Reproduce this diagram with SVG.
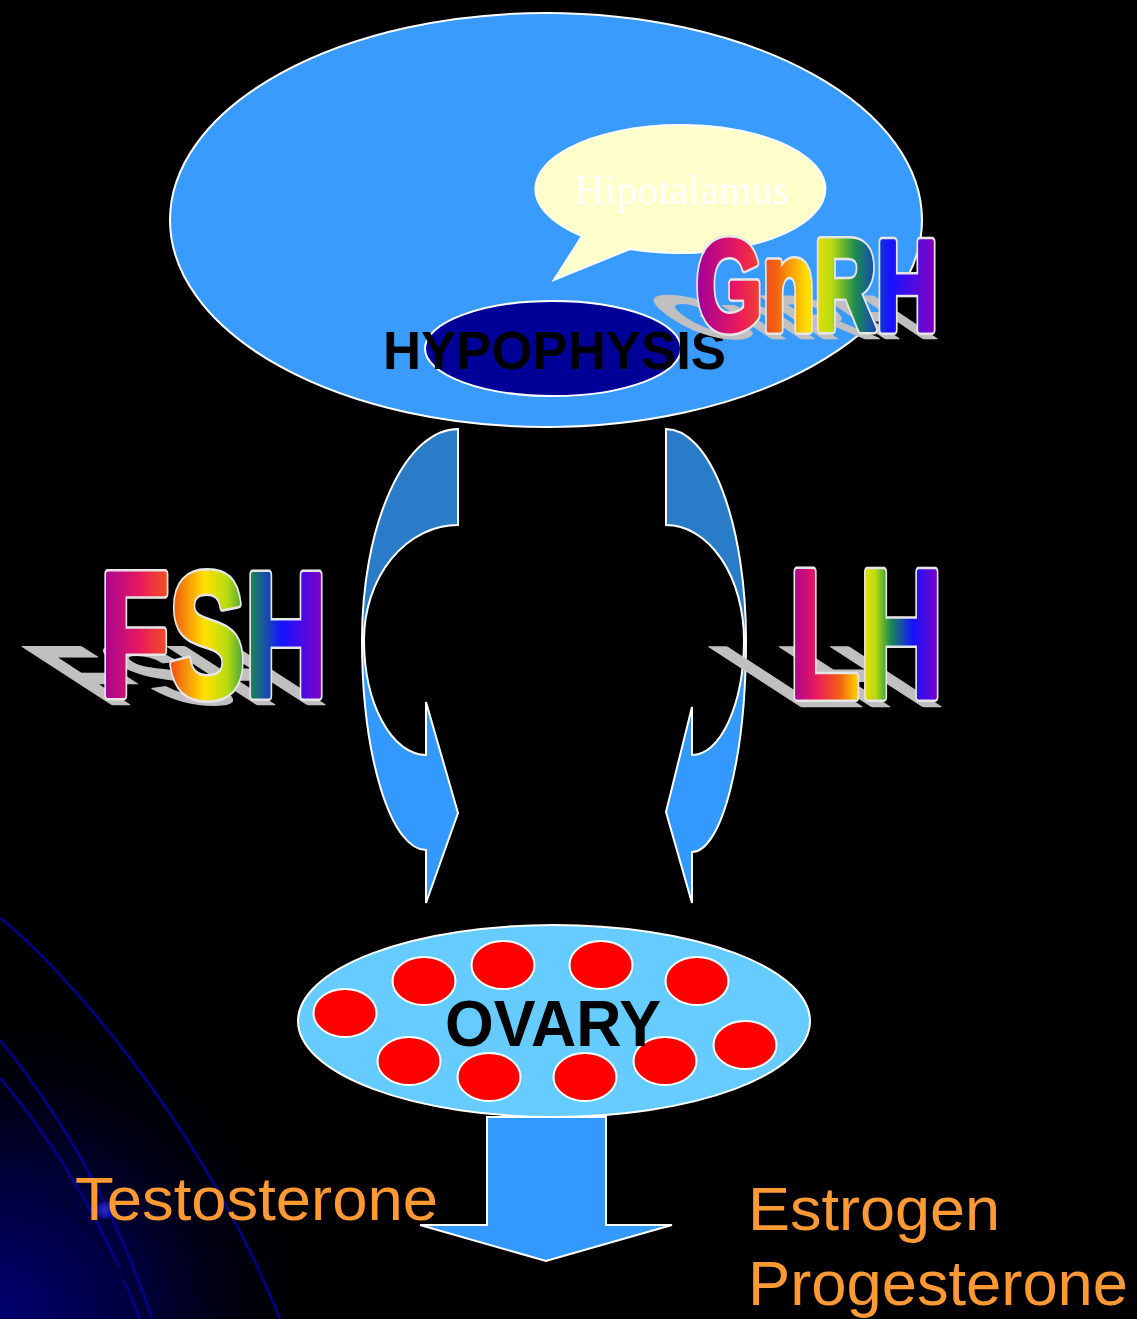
<svg xmlns="http://www.w3.org/2000/svg" width="1137" height="1319" viewBox="0 0 1137 1319">
<defs>
<linearGradient id="rainbow" x1="0" y1="0" x2="1" y2="0">
<stop offset="0" stop-color="#a0009c"/>
<stop offset="0.18" stop-color="#ea1a5c"/>
<stop offset="0.33" stop-color="#f2600f"/>
<stop offset="0.46" stop-color="#ffe000"/>
<stop offset="0.56" stop-color="#b8dc10"/>
<stop offset="0.66" stop-color="#1c8a50"/>
<stop offset="0.8" stop-color="#1414ff"/>
<stop offset="1" stop-color="#8a00c0"/>
</linearGradient>
<radialGradient id="corner" cx="0" cy="1319" r="330" gradientUnits="userSpaceOnUse">
<stop offset="0" stop-color="#000070"/>
<stop offset="0.45" stop-color="#000038"/>
<stop offset="1" stop-color="#000000" stop-opacity="0"/>
</radialGradient>
<radialGradient id="dot">
<stop offset="0" stop-color="#2a2ad0"/>
<stop offset="0.7" stop-color="#101090"/>
<stop offset="1" stop-color="#000040" stop-opacity="0"/>
</radialGradient>
<style>
.ws{stroke:#ffffff;stroke-width:2}
.wt{font-family:"Liberation Sans",Arial,sans-serif;font-weight:bold}
.edge{fill:#e6e6e6;stroke:#e6e6e6;stroke-width:10;stroke-linejoin:round}
.word{fill:url(#rainbow);stroke:url(#rainbow);stroke-width:5;stroke-linejoin:round}
.shadow{fill:#c0c0c0;stroke:#c0c0c0;stroke-width:5;stroke-linejoin:round}
.bold{font-family:"Liberation Sans",Arial,sans-serif;font-weight:bold;fill:#000000}
.orange{font-family:"Liberation Sans",Arial,sans-serif;fill:#ff9933}
.bgline{fill:none;stroke:#000090;stroke-width:2.5}
.follicle{fill:#ff0000;stroke:#ffffff;stroke-width:2}
</style>
</defs>
<rect x="0" y="0" width="1137" height="1319" fill="#000000"/>
<g id="background">
<rect x="0" y="900" width="340" height="419" fill="url(#corner)"/>
<path class="bgline" d="M0,918 C60,965 200,1120 280,1319"/>
<path class="bgline" d="M0,1040 C45,1095 110,1190 152,1319"/>
<path class="bgline" d="M0,1078 C40,1125 95,1200 140,1319"/>
<path fill="none" stroke="#00002a" stroke-width="2" d="M0,1145 C60,1190 110,1250 150,1319"/>
<circle cx="105" cy="1210" r="11" fill="url(#dot)"/>
</g>
<g id="brain">
<ellipse cx="546" cy="220" rx="376" ry="207" fill="#3a9bff" class="ws"/>
</g>
<g id="hypothalamus">
<path d="M630,249 A145,64 0 1 0 582,236 L554,280 Z" fill="#ffffcc" class="ws"/>
<text x="682" y="204" text-anchor="middle" font-family="'Liberation Serif','Times New Roman',serif" font-size="42" fill="#ffffff">Hipotalamus</text>
</g>
<g id="hypophysis">
<ellipse cx="553" cy="348.5" rx="128" ry="47.5" fill="#000099" class="ws"/>
<text class="bold" x="383" y="369" font-size="54" textLength="343" lengthAdjust="spacingAndGlyphs">HYPOPHYSIS</text>
</g>
<g id="connectors">
<path d="M458,429 A96,211 0 0 0 362,640 L364,640 A94,115 0 0 1 458,525 Z" fill="#2a7cc8" class="ws"/>
<path d="M362,640 A64,210 0 0 0 426,850 L426,903 L458,813 L426,702 L426,755 A62,115 0 0 1 364,640 Z" fill="#3399ff" class="ws"/>
<path d="M666,429 A80,211 0 0 1 746,640 L744,640 A78,115 0 0 0 666,525 Z" fill="#2a7cc8" class="ws"/>
<path d="M746,640 A54,212 0 0 1 692,852 L692,903 L666,812 L692,707 L692,755 A52,115 0 0 0 744,640 Z" fill="#3399ff" class="ws"/>
<path d="M487,1117 L606,1117 L606,1225 L672,1225 L546,1261 L420,1225 L487,1225 Z" fill="#3399ff" class="ws"/>
</g>
<g id="gnrh" class="wt" font-size="128">
<text class="shadow" x="696" y="330" textLength="242" lengthAdjust="spacingAndGlyphs" transform="translate(3,338) skewX(56) scale(1,0.47) translate(0,-330)">GnRH</text>
<text class="edge" x="696" y="330" textLength="242" lengthAdjust="spacingAndGlyphs">GnRH</text>
<text class="word" x="696" y="330" textLength="242" lengthAdjust="spacingAndGlyphs">GnRH</text>
</g>
<g id="fsh" class="wt" font-size="176">
<text class="shadow" x="100" y="696" textLength="227" lengthAdjust="spacingAndGlyphs" transform="translate(4,704) skewX(57) scale(1,0.47) translate(0,-696)">FSH</text>
<text class="edge" x="100" y="696" textLength="227" lengthAdjust="spacingAndGlyphs">FSH</text>
<text class="word" x="100" y="696" textLength="227" lengthAdjust="spacingAndGlyphs">FSH</text>
</g>
<g id="lh" class="wt" font-size="181">
<text class="shadow" x="789" y="697" textLength="154" lengthAdjust="spacingAndGlyphs" transform="translate(4,706) skewX(57) scale(1,0.47) translate(0,-697)">LH</text>
<text class="edge" x="789" y="697" textLength="154" lengthAdjust="spacingAndGlyphs">LH</text>
<text class="word" x="789" y="697" textLength="154" lengthAdjust="spacingAndGlyphs">LH</text>
</g>
<g id="ovary">
<ellipse cx="554" cy="1021" rx="256" ry="96" fill="#66ccff" class="ws"/>
<ellipse class="follicle" cx="345" cy="1013" rx="31.5" ry="24"/>
<ellipse class="follicle" cx="424" cy="981" rx="31.5" ry="24"/>
<ellipse class="follicle" cx="503" cy="965" rx="31.5" ry="24"/>
<ellipse class="follicle" cx="601" cy="965" rx="31.5" ry="24"/>
<ellipse class="follicle" cx="697" cy="981" rx="31.5" ry="24"/>
<ellipse class="follicle" cx="745" cy="1045" rx="31.5" ry="24"/>
<ellipse class="follicle" cx="665" cy="1061" rx="31.5" ry="24"/>
<ellipse class="follicle" cx="585" cy="1077" rx="31.5" ry="24"/>
<ellipse class="follicle" cx="489" cy="1077" rx="31.5" ry="24"/>
<ellipse class="follicle" cx="409" cy="1061" rx="31.5" ry="24"/>
<text class="bold" x="445" y="1046" font-size="65" textLength="216" lengthAdjust="spacingAndGlyphs">OVARY</text>
</g>
<g id="hormones">
<text class="orange" x="75" y="1220" font-size="62" textLength="363" lengthAdjust="spacingAndGlyphs">Testosterone</text>
<text class="orange" x="748" y="1230" font-size="62" textLength="252" lengthAdjust="spacingAndGlyphs">Estrogen</text>
<text class="orange" x="748" y="1305" font-size="63" textLength="380" lengthAdjust="spacingAndGlyphs">Progesterone</text>
</g>
</svg>
